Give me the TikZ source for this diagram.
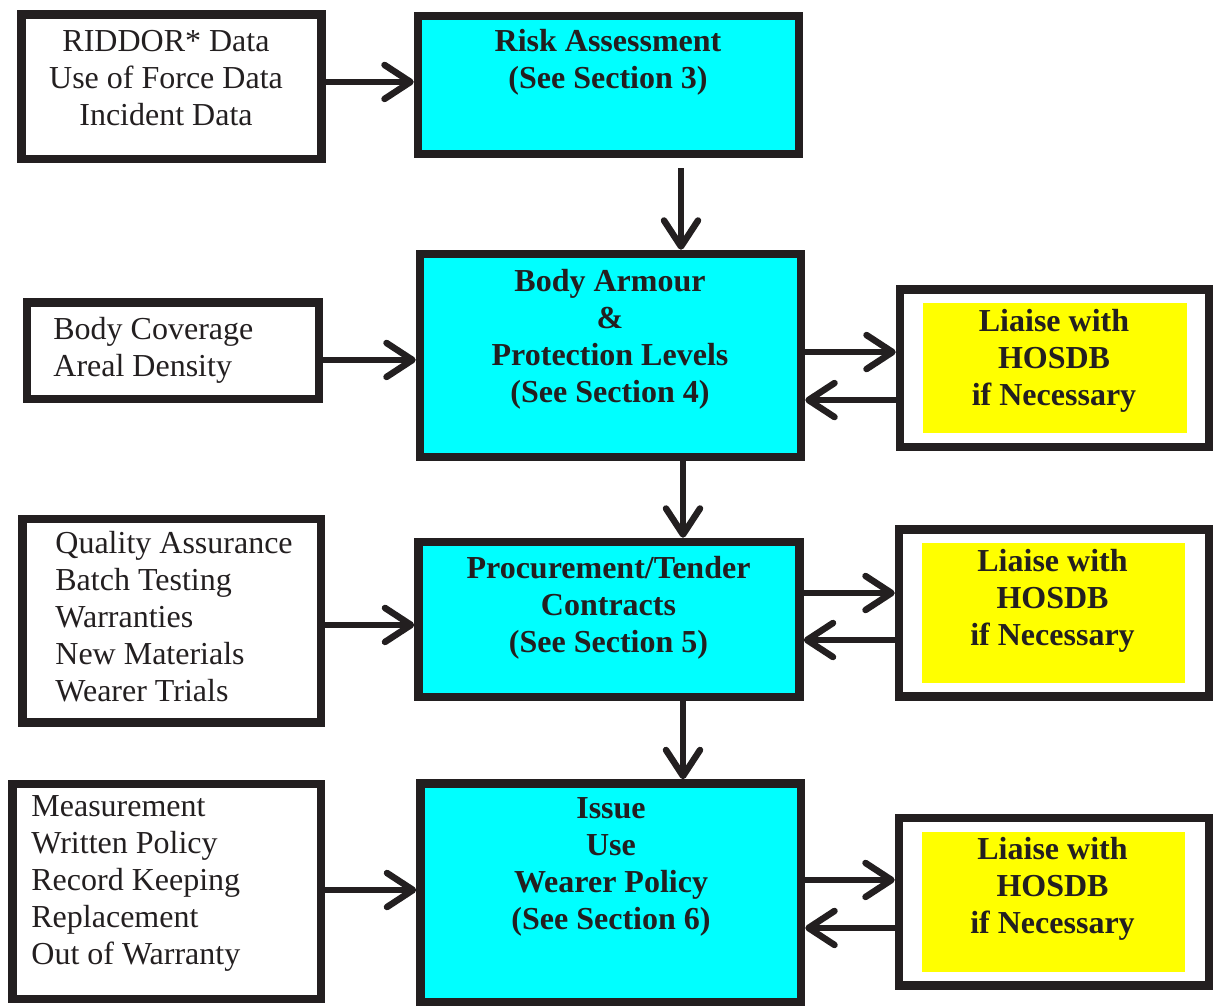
\documentclass[tikz,border=0pt]{standalone}
\usepackage{fontspec}
\setmainfont{Liberation Serif}
\usetikzlibrary{arrows.meta}
\definecolor{ink}{HTML}{231F20}
\definecolor{stagecyan}{HTML}{00FFFF}
\definecolor{liaiseyellow}{HTML}{FFFF00}
\tikzset{
  boxline/.style={rectangle, draw=ink, line width=4.25pt, inner sep=0pt},
  inbox/.style={boxline, fill=white},
  stagebox/.style={boxline, fill=stagecyan},
  liaisebox/.style={boxline, fill=white},
  liaisefill/.style={rectangle, fill=liaiseyellow, inner sep=0pt},
  listtext/.style={font=\fontsize{16}{18.5}\selectfont, text=ink, inner sep=0pt},
  stagetext/.style={listtext, font=\fontsize{16}{18.5}\selectfont\bfseries, align=center, anchor=base},
  flow/.style={draw=ink, line width=3.25pt, -{Straight Barb[length=13pt, width=17pt, round]}}
}
\begin{document}
\begin{tikzpicture}[x=.5pt, y=-.5pt]
  \useasboundingbox (0,0) rectangle (1214,1007);
  % inputs on the left
  \node[inbox, minimum width=150pt, minimum height=72.25pt] (riddor) at (171.5,86.75) {};
  \node[inbox, minimum width=146pt, minimum height=48.25pt] (cover) at (173,350.75) {};
  \node[inbox, minimum width=149.25pt, minimum height=101.75pt] (quality) at (171.75,620.75) {};
  \node[inbox, minimum width=154.25pt, minimum height=107.5pt] (measure) at (166.75,891.5) {};
  \node[listtext, align=center, anchor=base] (riddortxt) at (166,125) {RIDDOR* Data\\Use of Force Data\\Incident Data};
  \node[listtext, align=left, anchor=base west] (covertxt) at (53,376) {Body Coverage\\Areal Density};
  \node[listtext, align=left, anchor=base west] (qualitytxt) at (55,701) {Quality Assurance\\Batch Testing\\Warranties\\New Materials\\Wearer Trials};
  \node[listtext, align=left, anchor=base west] (measuretxt) at (31,964) {Measurement\\Written Policy\\Record Keeping\\Replacement\\Out of Warranty};
  % main stages
  \node[stagebox, minimum width=190.5pt, minimum height=69pt] (risk) at (608.5,85) {};
  \node[stagebox, minimum width=190.5pt, minimum height=101.5pt] (body) at (610.5,355.5) {};
  \node[stagebox, minimum width=190.5pt, minimum height=77.5pt] (proc) at (609,619.5) {};
  \node[stagebox, minimum width=190.25pt, minimum height=109.25pt] (issue) at (610.75,892.75) {};
  \node[stagetext] (risktxt) at (608,88.5) {Risk Assessment\\(See Section 3)};
  \node[stagetext] (bodytxt) at (610,402) {Body Armour\\\&\\Protection Levels\\(See Section 4)};
  \node[stagetext] (proctxt) at (608.5,652) {Procurement/Tender\\Contracts\\(See Section 5)};
  \node[stagetext] (issuetxt) at (611,929) {Issue\\Use\\Wearer Policy\\(See Section 6)};
  % liaison boxes
  \node[liaisebox, minimum width=154.5pt, minimum height=78.75pt] (liaiseA) at (1054.5,368.25) {};
  \node[liaisebox, minimum width=155pt, minimum height=83.5pt] (liaiseB) at (1054,613) {};
  \node[liaisebox, minimum width=155pt, minimum height=83.75pt] (liaiseC) at (1054,901.75) {};
  \node[liaisefill, minimum width=132pt, minimum height=65pt] (fillA) at (1055,368) {};
  \node[liaisefill, minimum width=131.5pt, minimum height=70pt] (fillB) at (1053.5,613) {};
  \node[liaisefill, minimum width=131.5pt, minimum height=70pt] (fillC) at (1053.5,902) {};
  \node[stagetext] (liaiseAtxt) at (1054,405) {Liaise with\\HOSDB\\if Necessary};
  \node[stagetext] (liaiseBtxt) at (1052.5,645) {Liaise with\\HOSDB\\if Necessary};
  \node[stagetext] (liaiseCtxt) at (1052.5,933) {Liaise with\\HOSDB\\if Necessary};
  % inputs into stages
  \draw[flow] ([yshift=2.4pt]riddor.east) -- ([yshift=2.4pt]riddor.east -| risk.west);
  \draw[flow] ([yshift=-4.6pt]cover.east) -- ([yshift=-4.6pt]cover.east -| body.west);
  \draw[flow] ([yshift=-2.1pt]quality.east) -- ([yshift=-2.1pt]quality.east -| proc.west);
  \draw[flow] ([yshift=.75pt]measure.east) -- ([yshift=.75pt]measure.east -| issue.west);
  % stage to stage
  \draw[flow, shorten <=5pt] ([xshift=36.25pt]risk.south) -- ([xshift=36.25pt]risk.south |- body.north);
  \draw[flow] ([xshift=36.25pt]body.south) -- ([xshift=36.25pt]body.south |- proc.north);
  \draw[flow] ([xshift=37pt]proc.south) -- ([xshift=37pt]proc.south |- issue.north);
  % to and from HOSDB
  \draw[flow] ([yshift=8.1pt]liaiseA.west -| body.east) -- ([yshift=8.1pt]liaiseA.west);
  \draw[flow] ([yshift=-15.9pt]liaiseA.west) -- ([yshift=-15.9pt]liaiseA.west -| body.east);
  \draw[flow] ([yshift=10pt]liaiseB.west -| proc.east) -- ([yshift=10pt]liaiseB.west);
  \draw[flow] ([yshift=-13.5pt]liaiseB.west) -- ([yshift=-13.5pt]liaiseB.west -| proc.east);
  \draw[flow] ([yshift=10.9pt]liaiseC.west -| issue.east) -- ([yshift=10.9pt]liaiseC.west);
  \draw[flow] ([yshift=-13.1pt]liaiseC.west) -- ([yshift=-13.1pt]liaiseC.west -| issue.east);
\end{tikzpicture}
\end{document}
